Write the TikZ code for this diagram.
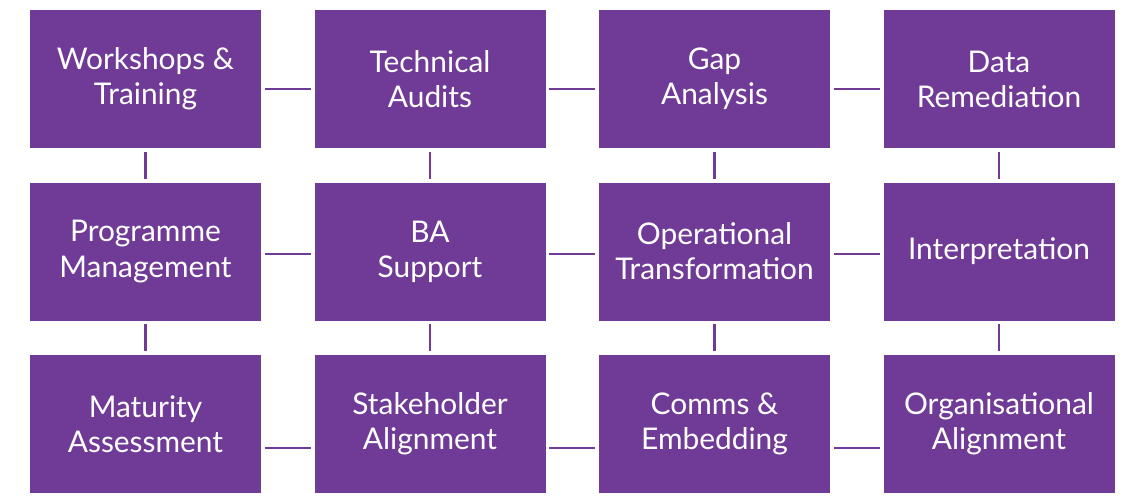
\documentclass[tikz,border=0pt]{standalone}
\usepackage{fontspec}
\setmainfont{Lato}
\usepackage{xcolor}
\usetikzlibrary{positioning}

\definecolor{plum}{RGB}{112,59,150}

\begin{document}
\begin{tikzpicture}[node distance=3.45cm and 5.69cm, on grid,
    box/.style={rectangle, fill=plum, text=white, minimum width=4.62cm,
        minimum height=2.76cm, align=center, inner sep=0pt,
        font=\fontsize{17}{20}\selectfont},
    link/.style={draw=plum, line width=1.4pt, shorten >=0.07cm, shorten <=0.07cm}]
   \useasboundingbox (-2.91,1.58) rectangle (19.59,-8.32);

   % top row
   \node[box] (work) {Workshops \&\\Training};
   \node[box] (audit) [right=of work] {Technical\\Audits};
   \node[box] (gap) [right=of audit] {Gap\\Analysis};
   \node[box] (data) [right=of gap] {Data\\Remediation};
   % middle row
   \node[box] (prog) [below=of work] {Programme\\Management};
   \node[box] (ba) [right=of prog] {BA\\Support};
   \node[box] (ops) [right=of ba] {Operational\\Transformation};
   \node[box] (interp) [right=of ops] {Interpretation};
   % bottom row
   \node[box] (mat) [below=of prog] {Maturity\\Assessment};
   \node[box] (stake) [right=of mat] {Stakeholder\\Alignment};
   \node[box] (comms) [right=of stake] {Comms \&\\Embedding};
   \node[box] (org) [right=of comms] {Organisational\\Alignment};

   \path[link]
   ([yshift=-2mm]work.east) edge ([yshift=-2mm]audit.west)
   ([yshift=-2mm]audit.east) edge ([yshift=-2mm]gap.west)
   ([yshift=-2mm]gap.east) edge ([yshift=-2mm]data.west)
   ([yshift=-0.5mm]prog.east) edge ([yshift=-0.5mm]ba.west)
   ([yshift=-0.5mm]ba.east) edge ([yshift=-0.5mm]ops.west)
   ([yshift=-0.5mm]ops.east) edge ([yshift=-0.5mm]interp.west)
   ([yshift=-4.8mm]mat.east) edge ([yshift=-4.8mm]stake.west)
   ([yshift=-4.8mm]stake.east) edge ([yshift=-4.8mm]comms.west)
   ([yshift=-4.8mm]comms.east) edge ([yshift=-4.8mm]org.west)
   (work) edge (prog)
   (audit) edge (ba)
   (gap) edge (ops)
   (data) edge (interp)
   (prog) edge (mat)
   (ba) edge (stake)
   (ops) edge (comms)
   (interp) edge (org)
    ;
\end{tikzpicture}
\end{document}
